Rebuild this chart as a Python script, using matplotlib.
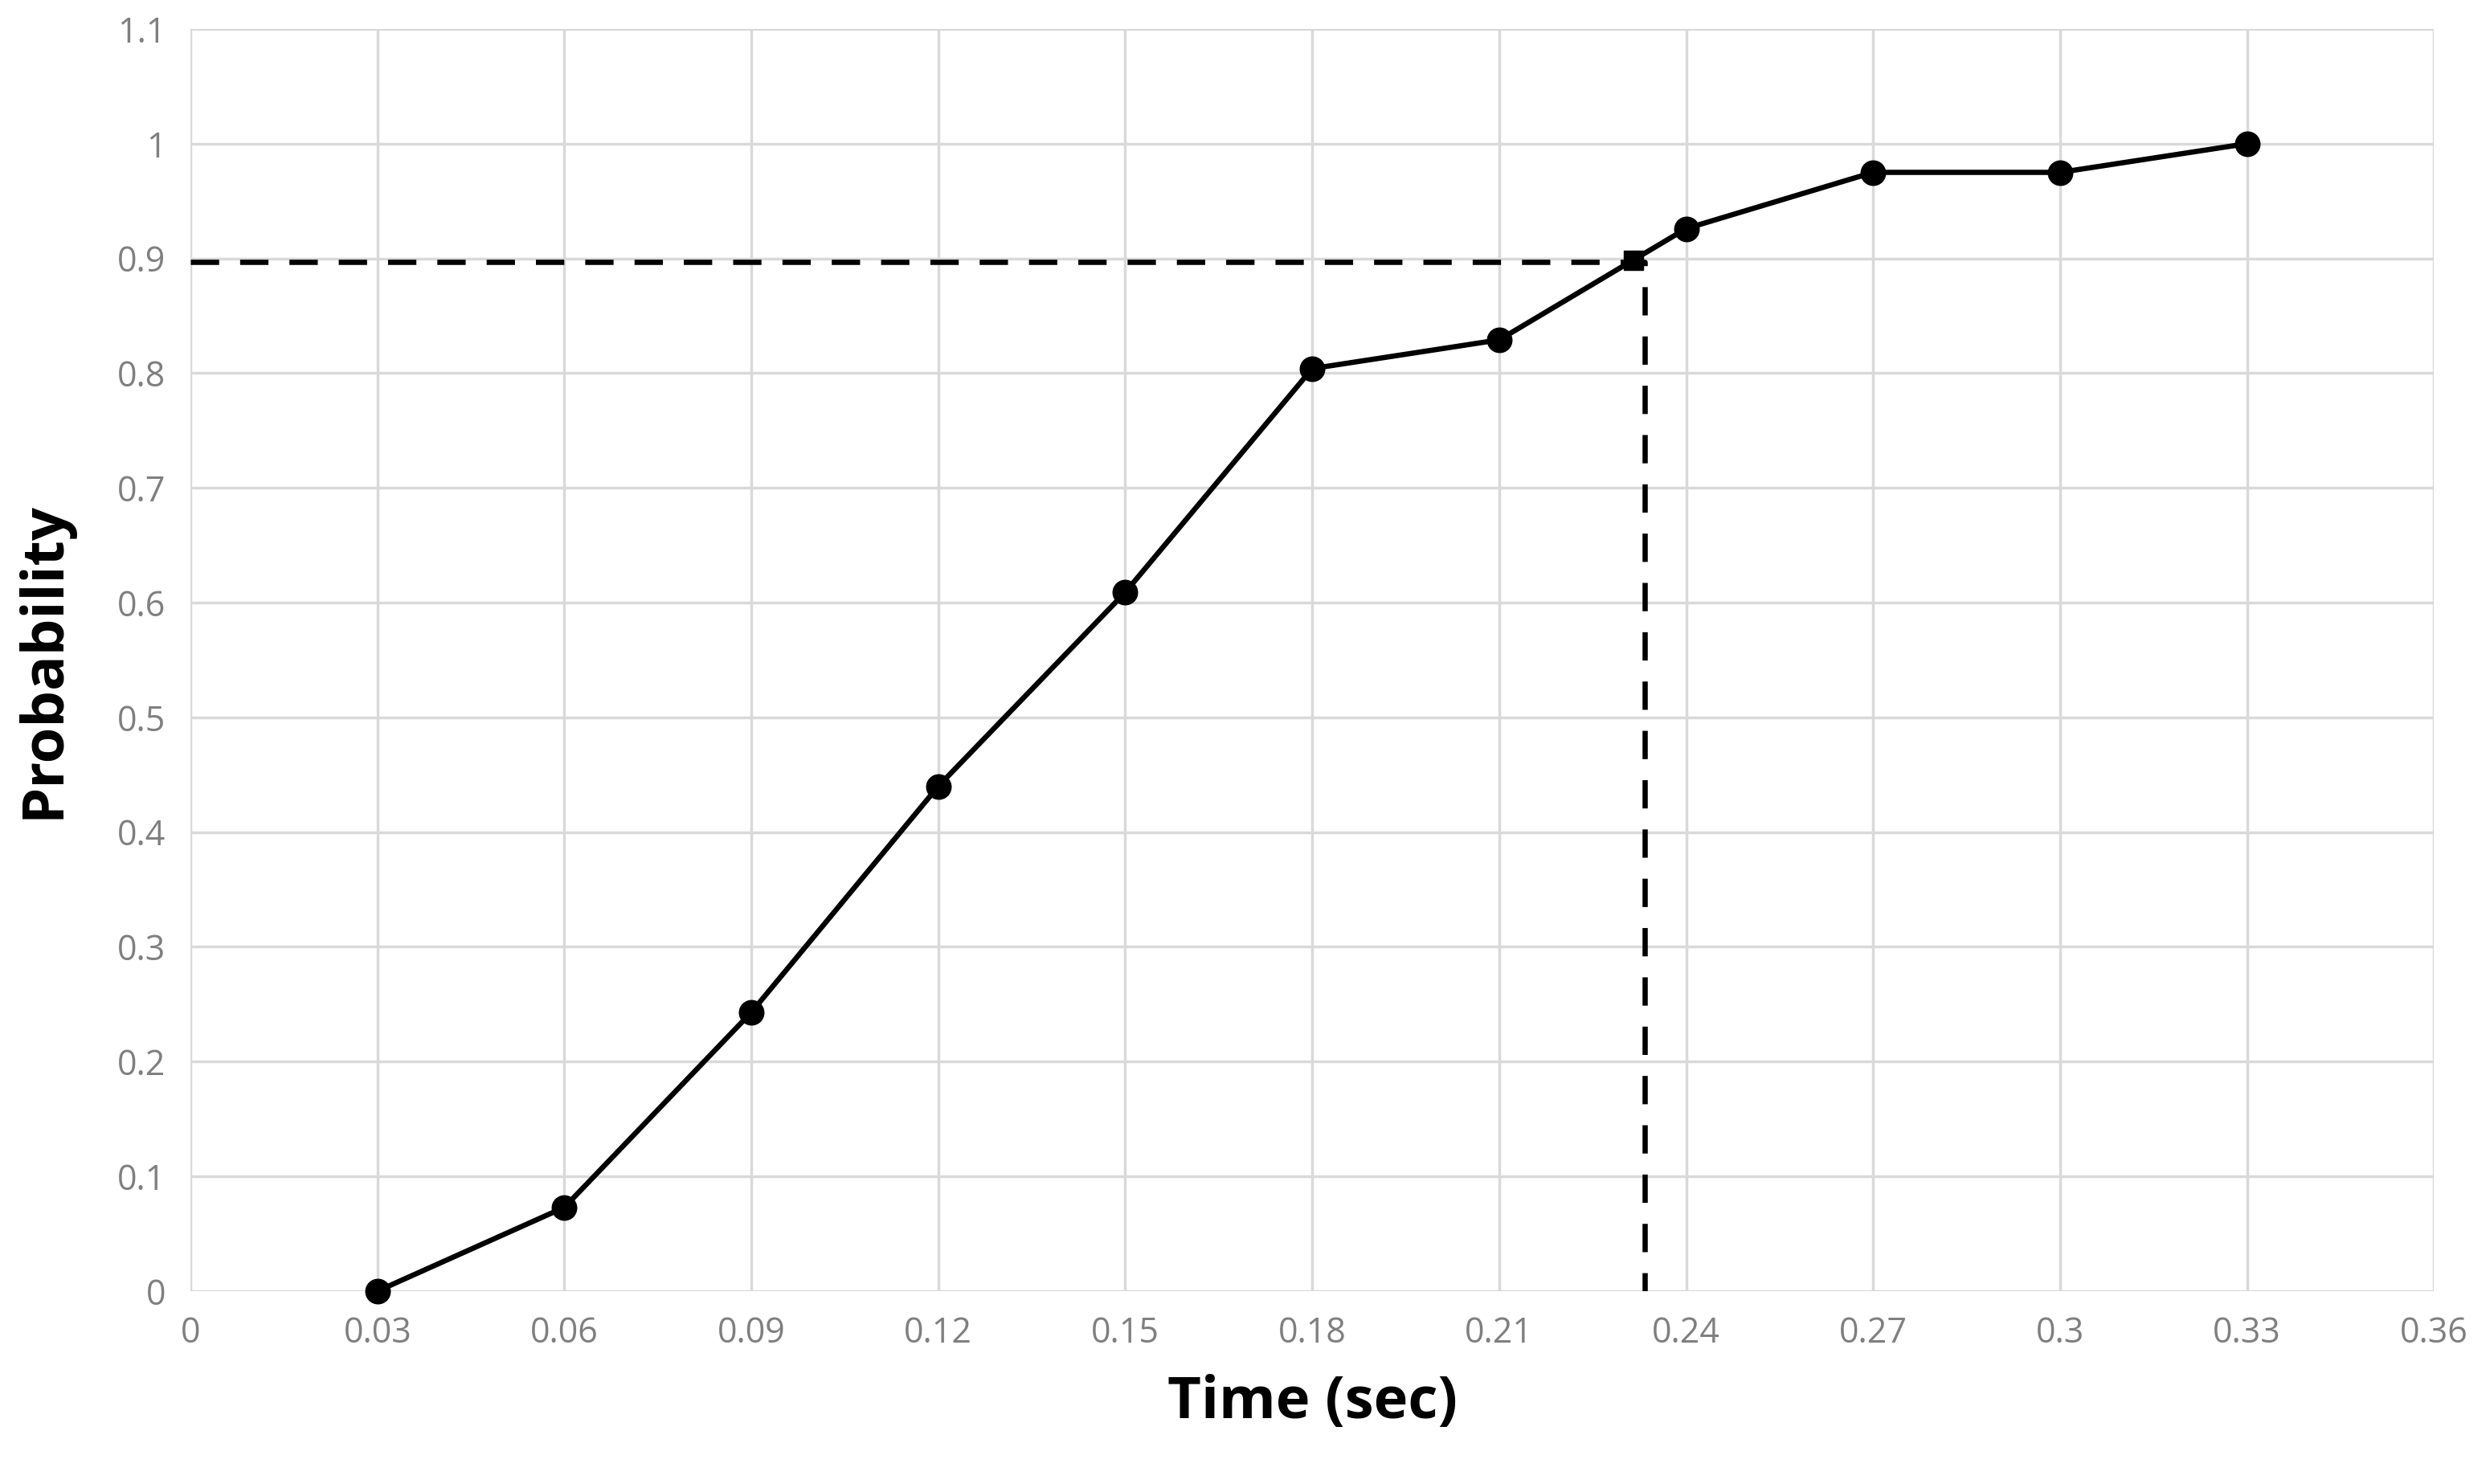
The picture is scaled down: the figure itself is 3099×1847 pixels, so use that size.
import matplotlib.pyplot as plt

# cumulative probability vs time
tiempo = [0.03, 0.06, 0.09, 0.12, 0.15, 0.18, 0.21, 0.24, 0.27, 0.30, 0.33]
prob = [0.0, 0.073, 0.243, 0.44, 0.609, 0.804, 0.829, 0.926, 0.975, 0.975, 1.0]

# 90% point
t90 = 0.2315
p90 = 0.898
guia_x = [0.0, 0.2333, 0.2333]
guia_y = [0.897, 0.897, 0.0]

xticks = [0, 0.03, 0.06, 0.09, 0.12, 0.15, 0.18, 0.21, 0.24, 0.27, 0.3, 0.33, 0.36]
xlabels = ['0', '0.03', '0.06', '0.09', '0.12', '0.15', '0.18', '0.21', '0.24', '0.27', '0.3', '0.33', '0.36']
yticks = [0, 0.1, 0.2, 0.3, 0.4, 0.5, 0.6, 0.7, 0.8, 0.9, 1.0, 1.1]
ylabels = ['0', '0.1', '0.2', '0.3', '0.4', '0.5', '0.6', '0.7', '0.8', '0.9', '1', '1.1']

plt.rcParams['font.family'] = ['Open Sans', 'DejaVu Sans']

fig = plt.figure(figsize=(30.99, 18.47), dpi=100)
ax = fig.add_axes([0.0765, 0.13, 0.901, 0.8505])

ax.plot(guia_x, guia_y, color='black', lw=4.7, ls=(0, (5.4, 4.0)), zorder=3)
ax.plot(tiempo, prob, color='black', lw=4.7, marker='o', ms=22, zorder=4, clip_on=False)
ax.plot([t90], [p90], color='black', marker='s', ms=17, ls='none', zorder=5)

ax.set_xlim(0, 0.36)
ax.set_ylim(0, 1.1)
ax.set_xticks(xticks)
ax.set_xticklabels(xlabels)
ax.set_yticks(yticks)
ax.set_yticklabels(ylabels)
ax.tick_params(length=0, labelsize=31, labelcolor='#7f7f7f', pad=22)
ax.grid(True, color='#d9d9d9', lw=2.5, zorder=0)
ax.set_axisbelow(True)
for s in ax.spines.values():
    s.set_visible(False)

ax.set_xlabel('Time (sec)', fontsize=52, fontweight='bold', labelpad=20)
ax.set_ylabel('Probability', fontsize=52, fontweight='bold', labelpad=40)

fig.savefig('out.png', dpi=100)
